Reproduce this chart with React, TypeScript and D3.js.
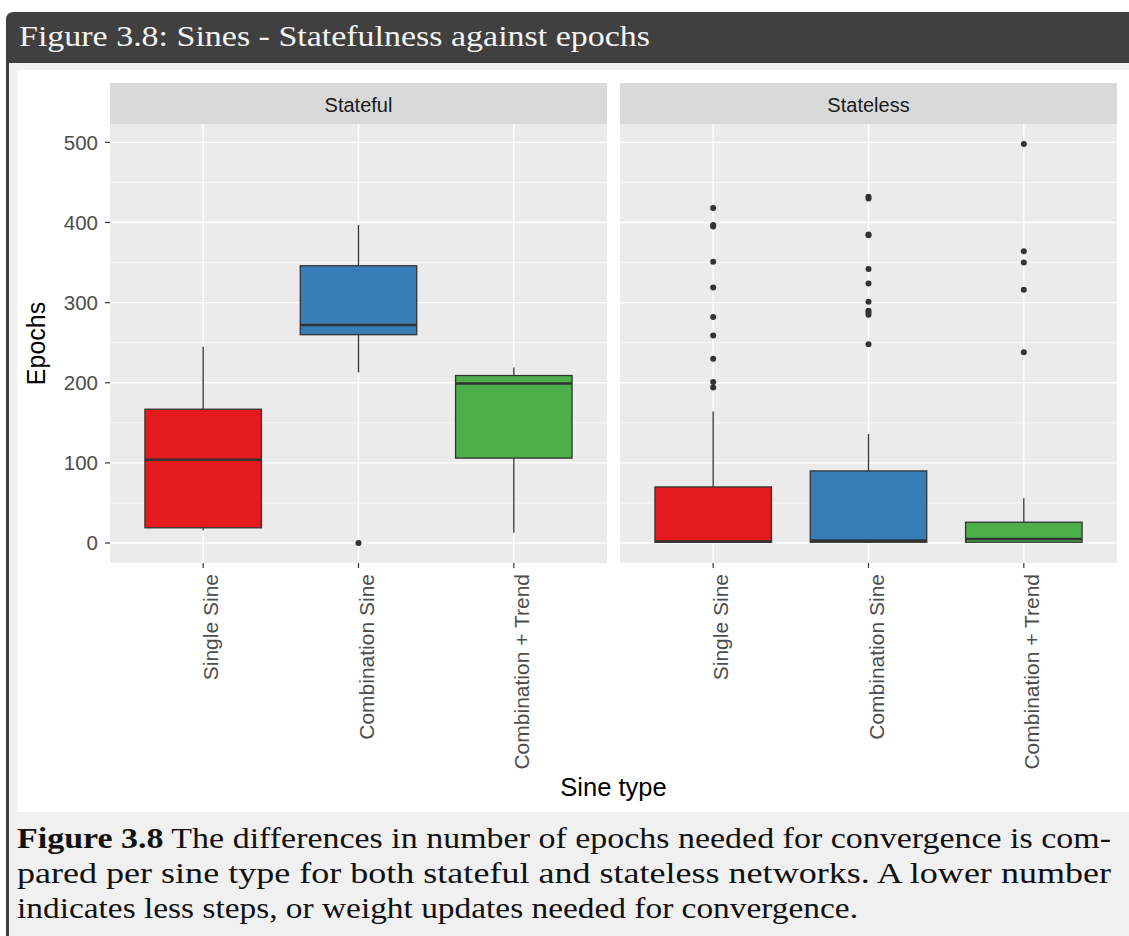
import React from "react";
import * as d3 from "d3";

// ---------- data ----------
const panels = ["Stateful", "Stateless"];
const categories = ["Single Sine", "Combination Sine", "Combination + Trend"];
const colors = ["#E41A1C", "#377EB8", "#4DAF4A"];

// box statistics per category: [lowerWhisker, q1, median, q3, upperWhisker]
const statefulStats = [
  [16, 19, 104, 167, 245],
  [213, 260, 272, 346, 397],
  [13, 106, 199, 209, 219],
];
const statelessStats = [
  [0, 1, 2, 70, 164],
  [0, 1, 3, 90, 136],
  [0, 1, 5, 26, 56],
];
const statefulOutliers = [[], [0], []];
const statelessOutliers = [
  [418, 397, 395, 351, 319, 282, 259, 230, 201, 194],
  [432, 430, 385, 384, 342, 324, 301, 290, 288, 285, 248],
  [498, 364, 350, 316, 238],
];
const yTicks = [0, 100, 200, 300, 400, 500];
const yMinor = [50, 150, 250, 350, 450];

const captionLines = [
  "The differences in number of epochs needed for convergence is com-",
  "pared per sine type for both stateful and stateless networks.  A lower number",
  "indicates less steps, or weight updates needed for convergence.",
];

// ---------- layout ----------
const W = 1129;
const H = 936;
const panelTop = 124;
const panelBottom = 563;
const stripTop = 83;
const panelX = [
  [110, 607],
  [620, 1117],
];

export default function App() {
  const dataMax = 498;
  const dataMin = 0;
  const pad = (dataMax - dataMin) * 0.05;
  const y = d3
    .scaleLinear()
    .domain([dataMin - pad, dataMax + pad])
    .range([panelBottom, panelTop]);

  const allStats = [statefulStats, statelessStats];
  const allOutliers = [statefulOutliers, statelessOutliers];
  const sansFont = "Liberation Sans, Arial, sans-serif";
  const serifFont = "Liberation Serif, Times New Roman, serif";

  return (
    <div style={{ position: "absolute", left: 0, top: 0 }}>
      <svg width={W} height={H} style={{ display: "block" }}>
        {/* frame */}
        <rect x={0} y={0} width={W} height={H} fill="#ffffff" />
        <rect x={6} y={63} width={W - 6} height={H - 63} fill="#F0F0F0" />
        <rect x={17} y={70} width={W - 17} height={812 - 70} fill="#ffffff" />
        <path
          d={`M6,${H} L6,20 Q6,12 14,12 L${W},12 L${W},63 L9,63 L9,${H} Z`}
          fill="#404040"
        />
        <text
          x={19}
          y={46}
          fill="#F4F4F4"
          fontFamily={serifFont}
          fontSize={30}
          textLength={631}
          lengthAdjust="spacingAndGlyphs"
        >
          Figure 3.8: Sines - Statefulness against epochs
        </text>

        {/* y axis labels */}
        {yTicks.map((t) => (
          <g key={"yt" + t}>
            <text
              x={98}
              y={y(t)}
              dy="0.35em"
              textAnchor="end"
              fill="#4D4D4D"
              fontFamily={sansFont}
              fontSize={20.5}
            >
              {t}
            </text>
            <line x1={105} x2={110} y1={y(t)} y2={y(t)} stroke="#333333" strokeWidth={1.2} />
          </g>
        ))}
        <text
          transform={`translate(45,${(panelTop + panelBottom) / 2}) rotate(-90)`}
          textAnchor="middle"
          fill="#000"
          fontFamily={sansFont}
          fontSize={25}
        >
          Epochs
        </text>

        {panels.map((p, pi) => {
          const [x0, x1] = panelX[pi];
          const x = d3.scalePoint<string>().domain(categories).range([x0, x1]).padding(0.6);
          const bw = x.step() * 0.75;
          const stats = allStats[pi];
          const outl = allOutliers[pi];
          return (
            <g key={p}>
              {/* strip */}
              <rect x={x0} y={stripTop} width={x1 - x0} height={panelTop - stripTop} fill="#D9D9D9" />
              <text
                x={(x0 + x1) / 2}
                y={111.5}
                textAnchor="middle"
                fill="#1A1A1A"
                fontFamily={sansFont}
                fontSize={20}
              >
                {p}
              </text>
              {/* panel */}
              <rect x={x0} y={panelTop} width={x1 - x0} height={panelBottom - panelTop} fill="#EBEBEB" />
              {yMinor.map((t) => (
                <line key={"mn" + t} x1={x0} x2={x1} y1={y(t)} y2={y(t)} stroke="#fff" strokeWidth={0.7} />
              ))}
              {yTicks.map((t) => (
                <line key={"mj" + t} x1={x0} x2={x1} y1={y(t)} y2={y(t)} stroke="#fff" strokeWidth={1.4} />
              ))}
              {categories.map((c) => (
                <line key={"vx" + c} x1={x(c)!} x2={x(c)!} y1={panelTop} y2={panelBottom} stroke="#fff" strokeWidth={1.4} />
              ))}
              {/* boxes */}
              {categories.map((c, ci) => {
                const [lo, q1, med, q3, hi] = stats[ci];
                const cx = x(c)!;
                return (
                  <g key={"box" + c}>
                    <line x1={cx} x2={cx} y1={y(q3)} y2={y(hi)} stroke="#333333" strokeWidth={1.3} />
                    <line x1={cx} x2={cx} y1={y(q1)} y2={y(lo)} stroke="#333333" strokeWidth={1.3} />
                    <rect
                      x={cx - bw / 2}
                      y={y(q3)}
                      width={bw}
                      height={y(q1) - y(q3)}
                      fill={colors[ci]}
                      stroke="#333333"
                      strokeWidth={1.3}
                    />
                    <line x1={cx - bw / 2} x2={cx + bw / 2} y1={y(med)} y2={y(med)} stroke="#333333" strokeWidth={2.6} />
                    {outl[ci].map((v, oi) => (
                      <circle key={"o" + oi} cx={cx} cy={y(v)} r={3} fill="#333333" />
                    ))}
                  </g>
                );
              })}
              {/* x ticks and labels */}
              {categories.map((c) => (
                <g key={"xt" + c}>
                  <line x1={x(c)!} x2={x(c)!} y1={panelBottom} y2={panelBottom + 5} stroke="#333333" strokeWidth={1.2} />
                  <text
                    transform={`translate(${x(c)! + 15},${panelBottom + 11}) rotate(-90)`}
                    textAnchor="end"
                    fill="#4D4D4D"
                    fontFamily={sansFont}
                    fontSize={21}
                  >
                    {c}
                  </text>
                </g>
              ))}
            </g>
          );
        })}

        <text
          x={(panelX[0][0] + panelX[1][1]) / 2}
          y={796}
          textAnchor="middle"
          fill="#000"
          fontFamily={sansFont}
          fontSize={25.5}
        >
          Sine type
        </text>

        {/* caption */}
        <text x={17} y={848} fontFamily={serifFont} fontSize={29} fill="#111" textLength={1094} lengthAdjust="spacingAndGlyphs">
          <tspan fontWeight="bold">Figure 3.8</tspan> {captionLines[0]}
        </text>
        <text x={17} y={883} fontFamily={serifFont} fontSize={29} fill="#111" textLength={1094} lengthAdjust="spacingAndGlyphs">
          {captionLines[1]}
        </text>
        <text x={17} y={918} fontFamily={serifFont} fontSize={29} fill="#111" textLength={841} lengthAdjust="spacingAndGlyphs">
          {captionLines[2]}
        </text>
      </svg>
    </div>
  );
}
